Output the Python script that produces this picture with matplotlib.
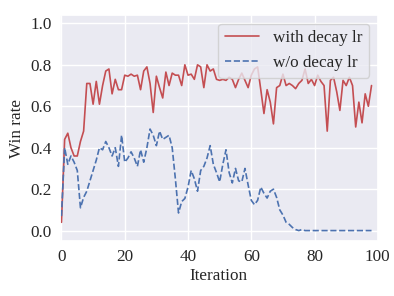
import numpy as np
import seaborn as sns
from matplotlib import pyplot as plt

# win rate per iteration
with_decay = [0.04, 0.44, 0.47, 0.40, 0.36, 0.36, 0.43, 0.48, 0.71, 0.71,
    0.61, 0.72, 0.61, 0.70, 0.77, 0.78, 0.66, 0.73, 0.68, 0.68,
    0.75, 0.745, 0.755, 0.745, 0.75, 0.68, 0.77, 0.79, 0.71, 0.57,
    0.745, 0.69, 0.64, 0.765, 0.70, 0.76, 0.75, 0.75, 0.70, 0.80,
    0.75, 0.755, 0.73, 0.80, 0.79, 0.69, 0.80, 0.77, 0.78, 0.73,
    0.725, 0.73, 0.725, 0.74, 0.73, 0.69, 0.73, 0.76, 0.725, 0.69,
    0.75, 0.78, 0.79, 0.68, 0.565, 0.68, 0.62, 0.515, 0.69, 0.70,
    0.755, 0.70, 0.71, 0.70, 0.685, 0.71, 0.725, 0.78, 0.71, 0.73,
    0.70, 0.75, 0.72, 0.70, 0.48, 0.725, 0.74, 0.67, 0.58, 0.725,
    0.70, 0.74, 0.70, 0.50, 0.62, 0.52, 0.66, 0.60, 0.70]

without_decay = [0.07, 0.40, 0.32, 0.36, 0.33, 0.29, 0.11, 0.16, 0.19, 0.24,
    0.29, 0.34, 0.40, 0.39, 0.43, 0.40, 0.36, 0.40, 0.31, 0.46,
    0.33, 0.35, 0.38, 0.35, 0.31, 0.39, 0.33, 0.40, 0.49, 0.46,
    0.41, 0.48, 0.44, 0.45, 0.46, 0.40, 0.25, 0.085, 0.14, 0.155,
    0.21, 0.29, 0.25, 0.19, 0.29, 0.31, 0.35, 0.41, 0.32, 0.28,
    0.235, 0.32, 0.39, 0.28, 0.23, 0.30, 0.24, 0.235, 0.30, 0.22,
    0.146, 0.125, 0.146, 0.21, 0.18, 0.157, 0.19, 0.20, 0.16, 0.10,
    0.075, 0.04, 0.03, 0.015, 0.005, 0.0, 0.005, 0.0, 0.0, 0.0,
    0.0, 0.0, 0.0, 0.0, 0.0, 0.0, 0.0, 0.0, 0.0, 0.0,
    0.0, 0.0, 0.0, 0.0, 0.0, 0.0, 0.0, 0.0, 0.0]

iteration = np.arange(len(with_decay))

sns.set_theme(style='darkgrid', color_codes=True)
plt.rcParams['font.family'] = ['Liberation Serif', 'DejaVu Serif']
plt.rcParams['font.size'] = 12.3

fig, ax = plt.subplots(figsize=(3.94, 2.96), dpi=100)
fig.subplots_adjust(left=0.152, right=0.959, bottom=0.186, top=0.949)

ax.plot(iteration, with_decay, 'r-', lw=1.2, label='with decay lr')
ax.plot(iteration, without_decay, 'b--', lw=1.2, label='w/o decay lr')

ax.set_xlim(-0.5, 100)
ax.set_ylim(-0.05, 1.04)
ax.set_xticks([0, 20, 40, 60, 80, 100])
ax.set_yticks([0.0, 0.2, 0.4, 0.6, 0.8, 1.0])
ax.tick_params(labelsize=12.3, length=0, pad=5.8)
ax.set_xlabel('Iteration', fontsize=12.3, labelpad=2.5)
ax.set_ylabel('Win rate', fontsize=12.3)
ax.legend(loc='upper right', fontsize=12.3)

fig.savefig('out.png', dpi=100)
